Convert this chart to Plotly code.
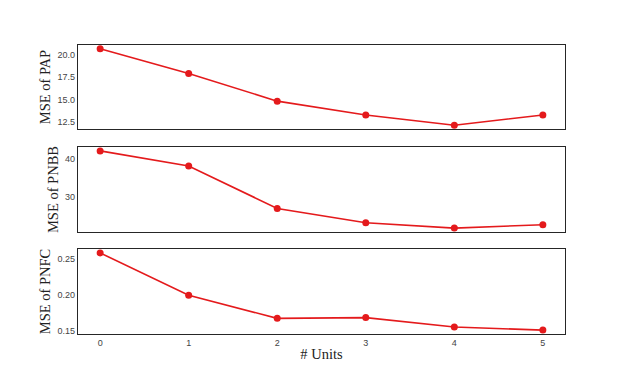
import plotly.graph_objects as go
from plotly.subplots import make_subplots

# hidden units evaluated
units = [0, 1, 2, 3, 4, 5]
x_ticks = [0, 1, 2, 3, 4, 5]

# MSE values per target
mse_pap = [20.66, 17.9, 14.8, 13.25, 12.1, 13.25]
mse_pnbb = [42.2, 38.2, 27.0, 23.2, 21.8, 22.7]
mse_pnfc = [0.258, 0.199, 0.167, 0.168, 0.155, 0.1506]

titles = ["MSE of PAP", "MSE of PNBB", "MSE of PNFC"]
y_ticks = [
    [12.5, 15.0, 17.5, 20.0],
    [30, 40],
    [0.15, 0.20, 0.25],
]
y_tick_text = [
    ["12.5", "15.0", "17.5", "20.0"],
    ["30", "40"],
    ["0.15", "0.20", "0.25"],
]
y_ranges = [[11.67, 21.09], [20.78, 43.22], [0.1452, 0.2634]]

RED = "#e41a1c"
SERIF = "Liberation Serif, Times New Roman, serif"
SANS = "Liberation Sans, Arial, sans-serif"

fig = make_subplots(rows=3, cols=1, shared_xaxes=True)

for i, vals in enumerate([mse_pap, mse_pnbb, mse_pnfc]):
    fig.add_trace(
        go.Scatter(
            x=units,
            y=vals,
            mode="lines+markers",
            line=dict(color=RED, width=1.6),
            marker=dict(color=RED, size=7),
            showlegend=False,
        ),
        row=i + 1, col=1
    )

domains = [[0.709, 1.0], [0.353, 0.647], [0.0, 0.294]]

for i in range(3):
    fig.update_yaxes(
        domain=domains[i],
        range=y_ranges[i],
        tickvals=y_ticks[i],
        ticktext=y_tick_text[i],
        tickfont=dict(family=SANS, size=9, color="#444444"),
        title=dict(text=titles[i], font=dict(family=SERIF, size=14.5, color="#222222"), standoff=3),
        showgrid=False,
        zeroline=False,
        showline=True,
        mirror=True,
        linecolor="#262626",
        linewidth=1.2,
        ticks="",
        automargin=False,
        row=i + 1, col=1
    )
    fig.update_xaxes(
        range=[-0.25, 5.25],
        tickvals=x_ticks,
        showgrid=False,
        zeroline=False,
        showline=True,
        mirror=True,
        linecolor="#262626",
        linewidth=1.2,
        ticks="",
        automargin=False,
        tickfont=dict(family=SANS, size=9, color="#444444"),
        row=i + 1, col=1
    )

fig.update_xaxes(
    title=dict(text="# Units", font=dict(family=SERIF, size=14.5, color="#222222"), standoff=1),
    row=3, col=1
)

# page body adds ~8px offset, so margins are shifted to compensate
fig.update_layout(
    width=627,
    height=376,
    margin=dict(l=70, r=70, t=37, b=50),
    paper_bgcolor="white",
    plot_bgcolor="white",
)

fig.write_html("out.html")
